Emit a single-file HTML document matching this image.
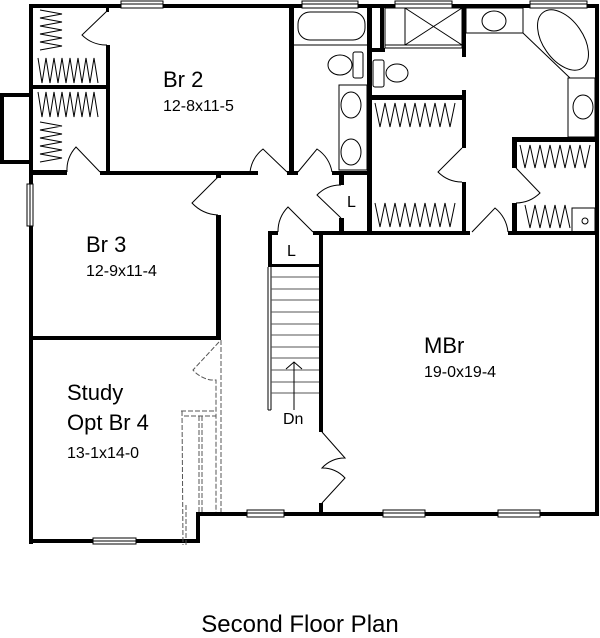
<!DOCTYPE html>
<html><head><meta charset="utf-8"><style>
html,body{margin:0;padding:0;background:#fff;}
svg{display:block;}
text{font-family:"Liberation Sans",sans-serif;fill:#000;}
</style></head><body>
<svg width="600" height="638" viewBox="0 0 600 638" xmlns="http://www.w3.org/2000/svg">
<g fill="#000" stroke="none">
<!-- outer walls -->
<rect x="29" y="4" width="570" height="4"/>
<rect x="29" y="4" width="4" height="540"/>
<rect x="595" y="4" width="4" height="512"/>
<rect x="29" y="539" width="171" height="4"/>
<rect x="196" y="512" width="4" height="31"/>
<rect x="196" y="512" width="403" height="4"/>
<!-- bump out -->
<rect x="0" y="93" width="33" height="4"/>
<rect x="0" y="160" width="33" height="4"/>
<rect x="0" y="93" width="4" height="71"/>
<!-- left closets -->
<rect x="33" y="85" width="76" height="4"/>
<rect x="106" y="45" width="4" height="128"/>
<rect x="106" y="8" width="3" height="4"/>
<rect x="29" y="170" width="38" height="4"/>
<!-- Br2 bottom -->
<rect x="100" y="171" width="158" height="4"/>
<rect x="287" y="171" width="11" height="4"/>
<rect x="289" y="4" width="5" height="171"/>
<!-- bath -->
<rect x="332" y="171" width="40" height="4"/>
<rect x="367" y="4" width="5" height="231"/>
<rect x="339" y="175" width="5" height="10"/>
<rect x="339" y="218" width="5" height="15"/>
<rect x="313" y="231" width="60" height="4"/>
<!-- shower block -->
<rect x="380" y="8" width="4" height="42"/>
<rect x="372" y="48" width="13" height="4"/>
<rect x="462" y="4" width="4" height="53"/>
<rect x="462" y="90" width="4" height="58"/>
<rect x="462" y="182" width="4" height="53"/>
<rect x="372" y="95" width="94" height="5"/>
<!-- closet2 -->
<rect x="512" y="137" width="85" height="5"/>
<rect x="512" y="137" width="5" height="31"/>
<rect x="512" y="203" width="5" height="32"/>
<!-- upper bottom wall -->
<rect x="370" y="231" width="100" height="4"/>
<rect x="508" y="231" width="91" height="4"/>
<!-- stair wall -->
<rect x="319" y="231" width="4" height="201"/>
<rect x="319" y="503" width="4" height="11"/>
<!-- L closet2 -->
<rect x="268" y="231" width="10" height="4"/>
<rect x="268" y="231" width="4" height="36"/>
<rect x="268" y="264" width="55" height="3"/>
<!-- Br3 -->
<rect x="33" y="171" width="34" height="4"/>
<rect x="216" y="175" width="5" height="3"/>
<rect x="216" y="215" width="5" height="125"/>
<rect x="29" y="336" width="192" height="4"/>
</g>
<g fill="#fff" stroke="#000" stroke-width="1">
<!-- windows -->
<rect x="121" y="1" width="42" height="7"/>
<rect x="302" y="1" width="56" height="7"/>
<rect x="395" y="1" width="57" height="7"/>
<rect x="530" y="1" width="57" height="7"/>
<rect x="27" y="184" width="6" height="42"/>
<rect x="93" y="538" width="43" height="6"/>
<rect x="247" y="510" width="37" height="7"/>
<rect x="383" y="510" width="42" height="7"/>
<rect x="498" y="510" width="42" height="7"/>
</g>
<g fill="none" stroke="#000" stroke-width="1">
<line x1="121" y1="4" x2="163" y2="4"/><line x1="302" y1="4" x2="358" y2="4"/><line x1="395" y1="4" x2="452" y2="4"/><line x1="530" y1="4" x2="587" y2="4"/>
<line x1="30" y1="184" x2="30" y2="226"/><line x1="93" y1="541" x2="136" y2="541"/>
<line x1="247" y1="513" x2="284" y2="513"/><line x1="383" y1="513" x2="425" y2="513"/><line x1="498" y1="513" x2="540" y2="513"/>
<!-- doors -->
<path d="M107,11 L82,35 A34,34 0 0 0 107,45"/>
<path d="M100,172 L76,147 A34,34 0 0 0 67,172"/>
<path d="M287,172 L263,149 A35,35 0 0 0 250,172"/>
<path d="M298,172 L317,149 A35,35 0 0 1 332,172"/>
<path d="M341,218 L317,195 A33,33 0 0 1 341,185"/>
<path d="M313,232 L288,207 A35,35 0 0 0 278,232"/>
<path d="M218,177 L192,203 A38,38 0 0 0 218,215"/>
<path d="M462,148 L438,172 A34,34 0 0 0 462,182"/>
<path d="M516,168 L540,193 A35,35 0 0 1 516,203"/>
<path d="M472,232 L495,208 A36,36 0 0 1 508,232"/>
<path d="M322,432 L345,458 A30,30 0 0 0 322,468 A30,30 0 0 1 345,478 L322,503"/>
<!-- bath fixtures -->
<rect x="298" y="12" width="67" height="28" rx="12"/>
<line x1="294" y1="45" x2="367" y2="45"/>
<rect x="353" y="52" width="10" height="26" rx="2"/>
<ellipse cx="340" cy="65" rx="12" ry="10"/>
<rect x="339" y="85" width="28" height="85"/>
<ellipse cx="351" cy="105" rx="10" ry="13"/>
<ellipse cx="351" cy="152" rx="10" ry="13"/>
<rect x="385" y="8" width="77" height="40"/>
<line x1="385" y1="45" x2="462" y2="45"/>
<line x1="405" y1="8" x2="462" y2="45"/><line x1="462" y1="8" x2="405" y2="45"/>
<line x1="405" y1="8" x2="405" y2="45"/>
<rect x="373" y="60" width="11" height="27" rx="2"/>
<ellipse cx="397" cy="73" rx="11" ry="9"/>
<rect x="466" y="8" width="57" height="25"/>
<ellipse cx="494" cy="21" rx="12" ry="10"/>
<line x1="523" y1="8" x2="523" y2="33"/>
<line x1="523" y1="33" x2="570" y2="78"/>
<ellipse cx="563" cy="40" rx="20" ry="34" transform="rotate(-35 563 40)"/>
<rect x="568" y="78" width="27" height="59"/>
<ellipse cx="583" cy="107" rx="10" ry="12"/>
<rect x="572" y="208" width="23" height="24"/>
<circle cx="585" cy="221" r="3"/>
<!-- closet zigzags -->
<polyline points="40,10 62,14 40,18 62,22 40,26 62,30 40,34 62,38 40,42 62,46 40,50"/>
<polyline points="38,58 42,83 46,58 50,83 54,58 58,83 62,58 66,83 70,58 74,83 78,58 82,83 86,58 90,83 94,58 98,83"/>
<polyline points="38,92 42,117 46,92 50,117 54,92 58,117 62,92 66,117 70,92 74,117 78,92 82,117 86,92 90,117 94,92 98,117"/>
<polyline points="40,122 62,126 40,130 62,134 40,138 62,142 40,146 62,150 40,154 62,158 40,162"/>
<polyline points="375,103 380,127 385,103 390,127 395,103 400,127 405,103 410,127 415,103 420,127 425,103 430,127 435,103 440,127 445,103 450,127 455,103"/>
<polyline points="375,203 380,227 385,203 390,227 395,203 400,227 405,203 410,227 415,203 420,227 425,203 430,227 435,203 440,227 445,203 450,227 455,203"/>
<polyline points="520,145 525,168 530,145 535,168 540,145 545,168 550,145 555,168 560,145 565,168 570,145 575,168 580,145 585,168 590,145"/>
<polyline points="525,205 530,228 535,205 540,228 545,205 550,228 555,205 560,228 565,205 570,228"/>
<!-- stairs -->
<line x1="268" y1="267" x2="268" y2="410"/><line x1="271" y1="267" x2="271" y2="410"/>
<line x1="268" y1="410" x2="271" y2="410"/>
<g stroke="#555">
<line x1="271" y1="277" x2="319" y2="277"/><line x1="271" y1="289" x2="319" y2="289"/><line x1="271" y1="300" x2="319" y2="300"/><line x1="271" y1="312" x2="319" y2="312"/><line x1="271" y1="324" x2="319" y2="324"/><line x1="271" y1="335" x2="319" y2="335"/><line x1="271" y1="347" x2="319" y2="347"/><line x1="271" y1="358" x2="319" y2="358"/><line x1="271" y1="370" x2="319" y2="370"/><line x1="271" y1="382" x2="319" y2="382"/><line x1="271" y1="393" x2="319" y2="393"/>
</g>
<line x1="294" y1="362" x2="294" y2="410"/>
<polyline points="286,369 294,362 302,369"/>
</g>
<!-- dashed study -->
<g fill="none" stroke="#555" stroke-width="1" stroke-dasharray="5,2">
<path d="M219,342 L193,370 A30,30 0 0 0 211,380 L216,380 L216,512"/>
<line x1="221" y1="340" x2="221" y2="512"/>
<line x1="181" y1="411" x2="216" y2="411"/>
<line x1="184" y1="416" x2="216" y2="416"/>
<line x1="199" y1="416" x2="199" y2="512"/>
<line x1="202" y1="416" x2="202" y2="512"/>
<line x1="182" y1="411" x2="183" y2="545"/>
<line x1="186" y1="505" x2="186" y2="545"/>
</g>
<!-- labels -->
<text x="163" y="87" font-size="22">Br 2</text>
<text x="163" y="111" font-size="16">12-8x11-5</text>
<text x="86" y="252" font-size="22">Br 3</text>
<text x="86" y="276" font-size="16">12-9x11-4</text>
<text x="67" y="400" font-size="22">Study</text>
<text x="67" y="430" font-size="22">Opt Br 4</text>
<text x="67" y="458" font-size="16">13-1x14-0</text>
<text x="424" y="353" font-size="22">MBr</text>
<text x="424" y="377" font-size="16">19-0x19-4</text>
<text x="283" y="424" font-size="16">Dn</text>
<text x="347" y="207" font-size="16">L</text>
<text x="287" y="256" font-size="16">L</text>
<text x="300" y="632" font-size="24" text-anchor="middle">Second Floor Plan</text>
</svg>
</body></html>
